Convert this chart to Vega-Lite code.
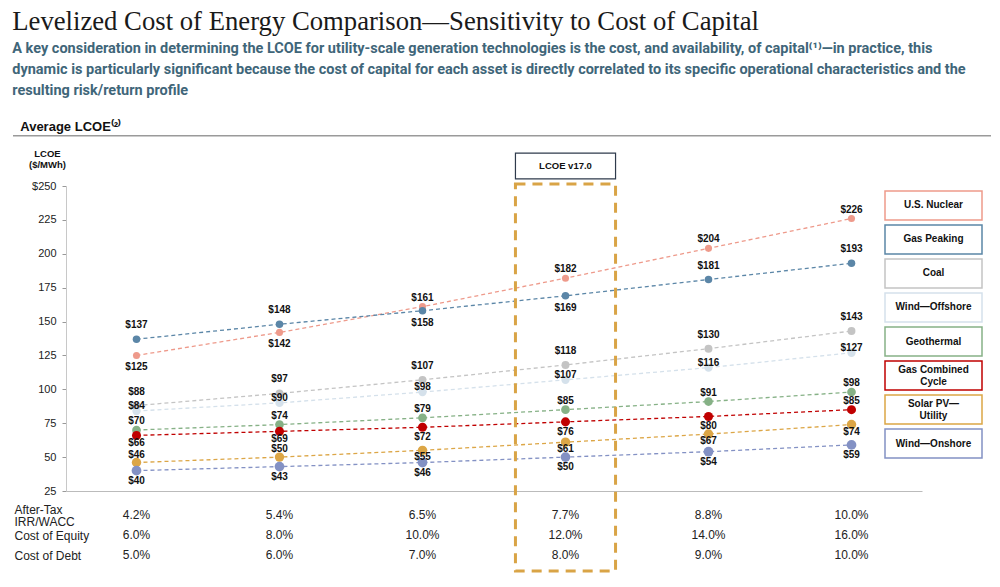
{
  "$schema": "https://vega.github.io/schema/vega-lite/v6.json",
  "padding": {"left": 12, "top": 8, "right": 5, "bottom": 5},
  "background": "white",
  "config": {"view": {"stroke": null}, "font": "Liberation Sans"},
  "title": {
    "text": "Levelized Cost of Energy Comparison—Sensitivity to Cost of Capital",
    "subtitle": [
      "A key consideration in determining the LCOE for utility-scale generation technologies is the cost, and availability, of capital⁽¹⁾—in practice, this",
      "dynamic is particularly significant because the cost of capital for each asset is directly correlated to its specific operational characteristics and the",
      "resulting risk/return profile"
    ],
    "anchor": "start",
    "frame": "bounds",
    "font": "Liberation Serif",
    "fontSize": 26.7,
    "fontWeight": "normal",
    "color": "#1a1a1a",
    "subtitleFont": "Roboto",
    "subtitleFontSize": 14.5,
    "subtitleFontWeight": "bold",
    "subtitleColor": "#3f6679",
    "subtitleLineHeight": 21,
    "subtitlePadding": 6,
    "offset": 24
  },
  "datasets": {
    "lcoe": [
      {"series": "U.S. Nuclear", "irr": "4.2%", "lcoe": 125},
      {"series": "U.S. Nuclear", "irr": "5.4%", "lcoe": 142},
      {"series": "U.S. Nuclear", "irr": "6.5%", "lcoe": 161},
      {"series": "U.S. Nuclear", "irr": "7.7%", "lcoe": 182},
      {"series": "U.S. Nuclear", "irr": "8.8%", "lcoe": 204},
      {"series": "U.S. Nuclear", "irr": "10.0%", "lcoe": 226},
      {"series": "Gas Peaking", "irr": "4.2%", "lcoe": 137},
      {"series": "Gas Peaking", "irr": "5.4%", "lcoe": 148},
      {"series": "Gas Peaking", "irr": "6.5%", "lcoe": 158},
      {"series": "Gas Peaking", "irr": "7.7%", "lcoe": 169},
      {"series": "Gas Peaking", "irr": "8.8%", "lcoe": 181},
      {"series": "Gas Peaking", "irr": "10.0%", "lcoe": 193},
      {"series": "Coal", "irr": "4.2%", "lcoe": 88},
      {"series": "Coal", "irr": "5.4%", "lcoe": 97},
      {"series": "Coal", "irr": "6.5%", "lcoe": 107},
      {"series": "Coal", "irr": "7.7%", "lcoe": 118},
      {"series": "Coal", "irr": "8.8%", "lcoe": 130},
      {"series": "Coal", "irr": "10.0%", "lcoe": 143},
      {"series": "Wind—Offshore", "irr": "4.2%", "lcoe": 84},
      {"series": "Wind—Offshore", "irr": "5.4%", "lcoe": 90},
      {"series": "Wind—Offshore", "irr": "6.5%", "lcoe": 98},
      {"series": "Wind—Offshore", "irr": "7.7%", "lcoe": 107},
      {"series": "Wind—Offshore", "irr": "8.8%", "lcoe": 116},
      {"series": "Wind—Offshore", "irr": "10.0%", "lcoe": 127},
      {"series": "Geothermal", "irr": "4.2%", "lcoe": 70},
      {"series": "Geothermal", "irr": "5.4%", "lcoe": 74},
      {"series": "Geothermal", "irr": "6.5%", "lcoe": 79},
      {"series": "Geothermal", "irr": "7.7%", "lcoe": 85},
      {"series": "Geothermal", "irr": "8.8%", "lcoe": 91},
      {"series": "Geothermal", "irr": "10.0%", "lcoe": 98},
      {"series": "Gas Combined Cycle", "irr": "4.2%", "lcoe": 66},
      {"series": "Gas Combined Cycle", "irr": "5.4%", "lcoe": 69},
      {"series": "Gas Combined Cycle", "irr": "6.5%", "lcoe": 72},
      {"series": "Gas Combined Cycle", "irr": "7.7%", "lcoe": 76},
      {"series": "Gas Combined Cycle", "irr": "8.8%", "lcoe": 80},
      {"series": "Gas Combined Cycle", "irr": "10.0%", "lcoe": 85},
      {"series": "Solar PV—Utility", "irr": "4.2%", "lcoe": 46},
      {"series": "Solar PV—Utility", "irr": "5.4%", "lcoe": 50},
      {"series": "Solar PV—Utility", "irr": "6.5%", "lcoe": 55},
      {"series": "Solar PV—Utility", "irr": "7.7%", "lcoe": 61},
      {"series": "Solar PV—Utility", "irr": "8.8%", "lcoe": 67},
      {"series": "Solar PV—Utility", "irr": "10.0%", "lcoe": 74},
      {"series": "Wind—Onshore", "irr": "4.2%", "lcoe": 40},
      {"series": "Wind—Onshore", "irr": "5.4%", "lcoe": 43},
      {"series": "Wind—Onshore", "irr": "6.5%", "lcoe": 46},
      {"series": "Wind—Onshore", "irr": "7.7%", "lcoe": 50},
      {"series": "Wind—Onshore", "irr": "8.8%", "lcoe": 54},
      {"series": "Wind—Onshore", "irr": "10.0%", "lcoe": 59}
    ],
    "table": [
      {"irr": "4.2%", "row": "After-Tax IRR/WACC", "value": "4.2%"},
      {"irr": "5.4%", "row": "After-Tax IRR/WACC", "value": "5.4%"},
      {"irr": "6.5%", "row": "After-Tax IRR/WACC", "value": "6.5%"},
      {"irr": "7.7%", "row": "After-Tax IRR/WACC", "value": "7.7%"},
      {"irr": "8.8%", "row": "After-Tax IRR/WACC", "value": "8.8%"},
      {"irr": "10.0%", "row": "After-Tax IRR/WACC", "value": "10.0%"},
      {"irr": "4.2%", "row": "Cost of Equity", "value": "6.0%"},
      {"irr": "5.4%", "row": "Cost of Equity", "value": "8.0%"},
      {"irr": "6.5%", "row": "Cost of Equity", "value": "10.0%"},
      {"irr": "7.7%", "row": "Cost of Equity", "value": "12.0%"},
      {"irr": "8.8%", "row": "Cost of Equity", "value": "14.0%"},
      {"irr": "10.0%", "row": "Cost of Equity", "value": "16.0%"},
      {"irr": "4.2%", "row": "Cost of Debt", "value": "5.0%"},
      {"irr": "5.4%", "row": "Cost of Debt", "value": "6.0%"},
      {"irr": "6.5%", "row": "Cost of Debt", "value": "7.0%"},
      {"irr": "7.7%", "row": "Cost of Debt", "value": "8.0%"},
      {"irr": "8.8%", "row": "Cost of Debt", "value": "9.0%"},
      {"irr": "10.0%", "row": "Cost of Debt", "value": "10.0%"}
    ],
    "legend": [
      {"series": "U.S. Nuclear", "label": "U.S. Nuclear"},
      {"series": "Gas Peaking", "label": "Gas Peaking"},
      {"series": "Coal", "label": "Coal"},
      {"series": "Wind—Offshore", "label": "Wind—Offshore"},
      {"series": "Geothermal", "label": "Geothermal"},
      {"series": "Gas Combined Cycle", "label": "Gas Combined\nCycle"},
      {"series": "Solar PV—Utility", "label": "Solar PV—\nUtility"},
      {"series": "Wind—Onshore", "label": "Wind—Onshore"}
    ],
    "boxlabel": [{"label": "LCOE v17.0"}]
  },
  "vconcat": [
    {
      "title": {"text": "Average LCOE⁽²⁾", "anchor": "start", "frame": "bounds", "font": "Liberation Sans", "fontSize": 13, "fontWeight": "bold", "color": "#111111", "offset": 1, "dx": 8},
      "width": 856,
      "height": 305,
      "resolve": {"scale": {"x": "independent", "y": "independent"}, "axis": {"x": "independent", "y": "independent"}},
      "layer": [
        {
          "data": {"values": [{}]},
          "mark": {"type": "rule", "color": "#9a9a9a", "strokeWidth": 1.5},
          "encoding": {
            "x": {"datum": 0, "type": "quantitative", "scale": {"domain": [0, 1], "range": [-53, 925], "nice": false}, "axis": null},
            "x2": {"datum": 1},
            "y": {"datum": 287, "type": "quantitative", "scale": {"domain": [25, 250], "nice": false}, "axis": null}
          }
        },
        {
          "data": {"name": "lcoe"},
          "layer": [
            {
              "mark": {"type": "line", "strokeDash": [4, 3], "strokeWidth": 1.3},
              "encoding": {
                "x": {"field": "irr", "type": "nominal", "scale": {"type": "band", "domain": ["4.2%", "5.4%", "6.5%", "7.7%", "8.8%", "10.0%"], "paddingInner": 0.3, "paddingOuter": 0.143}, "axis": {"labels": false, "ticks": false, "title": null, "domainColor": "#bbbbbb", "domainWidth": 1.2, "grid": false}},
                "y": {"field": "lcoe", "type": "quantitative", "scale": {"domain": [25, 250], "nice": false, "zero": false}, "axis": {"values": [25, 50, 75, 100, 125, 150, 175, 200, 225, 250], "tickCount": 12, "labelOverlap": false, "labelExpr": "datum.value == 250 ? '$250' : datum.label", "grid": false, "tickSize": 4, "tickColor": "#999999", "domainColor": "#c8c8c8", "labelFont": "Liberation Sans", "labelFontSize": 11, "labelColor": "#222222", "labelPadding": 6, "title": ["LCOE", "($/MWh)"], "titleAngle": 0, "titleX": -19, "titleY": -33, "titleAlign": "center", "titleBaseline": "middle", "titleFont": "Liberation Sans", "titleFontSize": 9.5, "titleFontWeight": "bold", "titleColor": "#111111", "titleLineHeight": 11}},
                "color": {"field": "series", "type": "nominal", "scale": {"domain": ["U.S. Nuclear", "Gas Peaking", "Coal", "Wind—Offshore", "Geothermal", "Gas Combined Cycle", "Solar PV—Utility", "Wind—Onshore"], "range": ["#EE9A8B", "#5B86A7", "#C4C4C4", "#D5E1EB", "#86B186", "#C00000", "#DCA646", "#8391C4"]}, "legend": null}
              }
            },
            {
              "data": {"name": "boxlabel"},
              "mark": {"type": "rect", "fill": null, "stroke": "#D9A446", "strokeWidth": 3, "strokeDash": [10, 7]},
              "encoding": {
                "x": {"datum": "7.7%", "type": "nominal"},
                "y": {"datum": 251.5, "type": "quantitative"},
                "y2": {"datum": -34}
              }
            },
            {
              "data": {"name": "boxlabel"},
              "mark": {"type": "rect", "fill": "white", "stroke": "#2f3b4c", "strokeWidth": 1.2},
              "encoding": {
                "x": {"datum": "7.7%", "type": "nominal"},
                "y": {"datum": 274.3, "type": "quantitative"},
                "y2": {"datum": 255.2}
              }
            },
            {
              "data": {"name": "boxlabel"},
              "mark": {"type": "text", "fontSize": 9.5, "fontWeight": "bold", "color": "#111111"},
              "encoding": {
                "x": {"datum": "7.7%", "type": "nominal"},
                "y": {"datum": 264.7, "type": "quantitative"},
                "text": {"field": "label"}
              }
            },
            {
              "mark": {"type": "point", "filled": true, "opacity": 1},
              "encoding": {
                "x": {"field": "irr", "type": "nominal"},
                "y": {"field": "lcoe", "type": "quantitative"},
                "color": {"field": "series", "type": "nominal", "legend": null},
                "size": {"field": "series", "type": "nominal", "scale": {"domain": ["U.S. Nuclear", "Gas Peaking", "Coal", "Wind—Offshore", "Geothermal", "Gas Combined Cycle", "Solar PV—Utility", "Wind—Onshore"], "range": [50, 95, 95, 90, 50, 55, 80, 80]}, "legend": null}
              }
            },
            {
              "transform": [{"filter": "datum.series == 'Coal' || (datum.series == 'Gas Peaking' && datum.irr != '6.5%' && datum.irr != '7.7%')"}],
              "mark": {"type": "text", "fontSize": 10, "fontWeight": "bold", "color": "#111111", "dy": -14},
              "encoding": {"x": {"field": "irr", "type": "nominal"}, "y": {"field": "lcoe", "type": "quantitative"}, "text": {"field": "lcoe", "type": "quantitative", "format": "$.0f"}}
            },
            {
              "transform": [{"filter": "(datum.series == 'U.S. Nuclear' && datum.irr != '4.2%' && datum.irr != '5.4%') || datum.series == 'Geothermal' || (datum.series == 'Gas Combined Cycle' && datum.irr == '10.0%')"}],
              "mark": {"type": "text", "fontSize": 10, "fontWeight": "bold", "color": "#111111", "dy": -9},
              "encoding": {"x": {"field": "irr", "type": "nominal"}, "y": {"field": "lcoe", "type": "quantitative"}, "text": {"field": "lcoe", "type": "quantitative", "format": "$.0f"}}
            },
            {
              "transform": [{"filter": "datum.series == 'Solar PV—Utility' && (datum.irr == '4.2%' || datum.irr == '5.4%')"}],
              "mark": {"type": "text", "fontSize": 10, "fontWeight": "bold", "color": "#111111", "dy": -8},
              "encoding": {"x": {"field": "irr", "type": "nominal"}, "y": {"field": "lcoe", "type": "quantitative"}, "text": {"field": "lcoe", "type": "quantitative", "format": "$.0f"}}
            },
            {
              "transform": [{"filter": "datum.series == 'Wind—Offshore'"}],
              "mark": {"type": "text", "fontSize": 10, "fontWeight": "bold", "color": "#111111", "dy": -5},
              "encoding": {"x": {"field": "irr", "type": "nominal"}, "y": {"field": "lcoe", "type": "quantitative"}, "text": {"field": "lcoe", "type": "quantitative", "format": "$.0f"}}
            },
            {
              "transform": [{"filter": "(datum.series == 'U.S. Nuclear' && (datum.irr == '4.2%' || datum.irr == '5.4%')) || (datum.series == 'Gas Peaking' && (datum.irr == '6.5%' || datum.irr == '7.7%'))"}],
              "mark": {"type": "text", "fontSize": 10, "fontWeight": "bold", "color": "#111111", "dy": 12},
              "encoding": {"x": {"field": "irr", "type": "nominal"}, "y": {"field": "lcoe", "type": "quantitative"}, "text": {"field": "lcoe", "type": "quantitative", "format": "$.0f"}}
            },
            {
              "transform": [{"filter": "datum.series == 'Gas Combined Cycle' && (datum.irr == '4.2%' || datum.irr == '5.4%')"}],
              "mark": {"type": "text", "fontSize": 10, "fontWeight": "bold", "color": "#111111", "dy": 8},
              "encoding": {"x": {"field": "irr", "type": "nominal"}, "y": {"field": "lcoe", "type": "quantitative"}, "text": {"field": "lcoe", "type": "quantitative", "format": "$.0f"}}
            },
            {
              "transform": [{"filter": "(datum.series == 'Gas Combined Cycle' && datum.irr != '10.0%' && datum.irr != '4.2%' && datum.irr != '5.4%') || datum.series == 'Wind—Onshore'"}],
              "mark": {"type": "text", "fontSize": 10, "fontWeight": "bold", "color": "#111111", "dy": 10},
              "encoding": {"x": {"field": "irr", "type": "nominal"}, "y": {"field": "lcoe", "type": "quantitative"}, "text": {"field": "lcoe", "type": "quantitative", "format": "$.0f"}}
            },
            {
              "transform": [{"filter": "datum.series == 'Solar PV—Utility' && datum.irr != '4.2%' && datum.irr != '5.4%'"}],
              "mark": {"type": "text", "fontSize": 10, "fontWeight": "bold", "color": "#111111", "dy": 7},
              "encoding": {"x": {"field": "irr", "type": "nominal"}, "y": {"field": "lcoe", "type": "quantitative"}, "text": {"field": "lcoe", "type": "quantitative", "format": "$.0f"}}
            }
          ]
        },
        {
          "data": {"name": "table"},
          "mark": {"type": "text", "fontSize": 12, "color": "#222222"},
          "encoding": {
            "x": {"field": "irr", "type": "nominal", "scale": {"type": "band", "domain": ["4.2%", "5.4%", "6.5%", "7.7%", "8.8%", "10.0%"], "paddingInner": 0.3, "paddingOuter": 0.143}, "axis": null},
            "y": {"field": "row", "type": "nominal", "scale": {"type": "point", "domain": ["After-Tax IRR/WACC", "Cost of Equity", "Cost of Debt"], "range": [329, 369], "padding": 0}, "axis": {"orient": "left", "domain": false, "ticks": false, "grid": false, "title": null, "labelAlign": "left", "labelPadding": 52, "labelFont": "Liberation Sans", "labelFontSize": 12, "labelColor": "#222222", "labelLineHeight": 12, "labelOverlap": false, "labelOffset": {"condition": {"test": "datum.value == 'After-Tax IRR/WACC'", "value": -6}, "value": 0}, "labelExpr": "datum.value == 'After-Tax IRR/WACC' ? ['After-Tax', 'IRR/WACC'] : datum.label"}},
            "text": {"field": "value"}
          }
        },
        {
          "data": {"name": "legend"},
          "encoding": {
            "x": {"datum": "k", "type": "nominal", "scale": {"type": "band", "domain": ["k"], "range": [819, 916], "paddingInner": 0, "paddingOuter": 0}, "axis": null},
            "y": {"field": "series", "type": "nominal", "scale": {"type": "band", "domain": ["U.S. Nuclear", "Gas Peaking", "Coal", "Wind—Offshore", "Geothermal", "Gas Combined Cycle", "Solar PV—Utility", "Wind—Onshore"], "range": [5, 272], "paddingInner": 0.15, "paddingOuter": 0}, "axis": null}
          },
          "layer": [
            {
              "mark": {"type": "rect", "fill": "white", "strokeWidth": 1.5},
              "encoding": {"stroke": {"field": "series", "type": "nominal", "scale": {"domain": ["U.S. Nuclear", "Gas Peaking", "Coal", "Wind—Offshore", "Geothermal", "Gas Combined Cycle", "Solar PV—Utility", "Wind—Onshore"], "range": ["#EE9A8B", "#5B86A7", "#C4C4C4", "#D5E1EB", "#86B186", "#C00000", "#DCA646", "#8391C4"]}, "legend": null}}
            },
            {
              "transform": [{"filter": "indexof(datum.label, '\\n') < 0"}],
              "mark": {"type": "text", "fontSize": 10, "fontWeight": "bold", "color": "#111111"},
              "encoding": {"text": {"field": "label"}}
            },
            {
              "transform": [{"filter": "indexof(datum.label, '\\n') >= 0"}],
              "mark": {"type": "text", "fontSize": 10, "fontWeight": "bold", "lineBreak": "\n", "lineHeight": 12, "color": "#111111", "dy": -6},
              "encoding": {"text": {"field": "label"}}
            }
          ]
        }
      ]
    }
  ]
}
